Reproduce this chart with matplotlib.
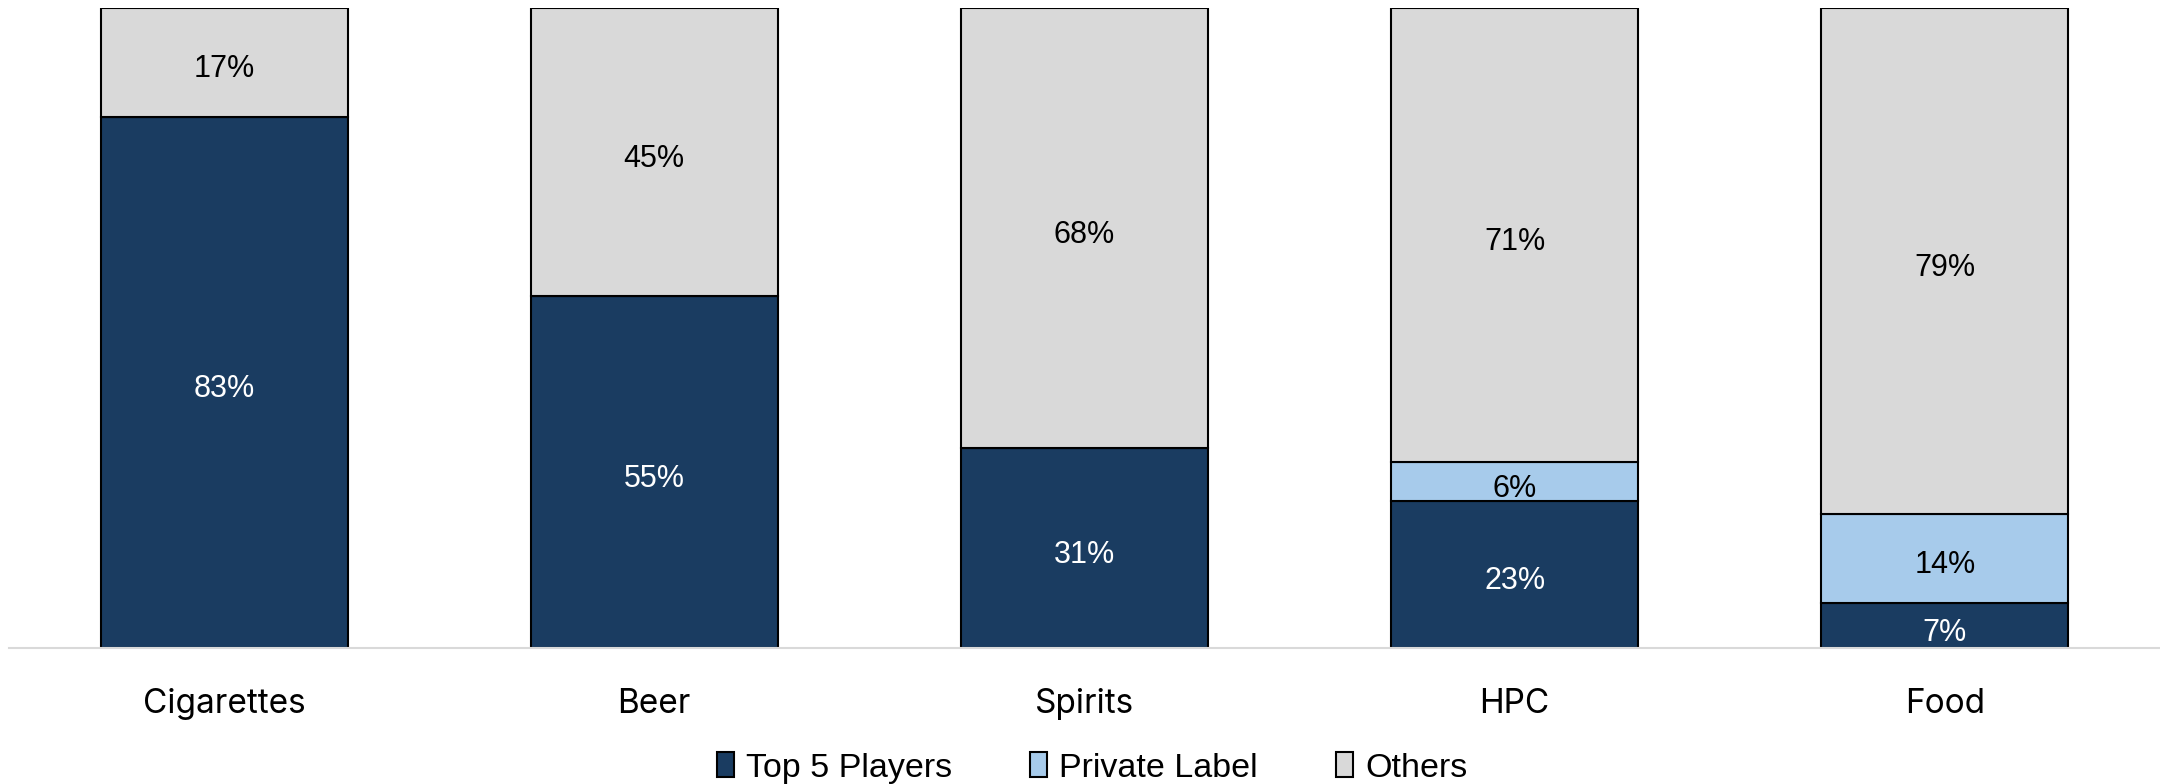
import matplotlib.pyplot as plt
import numpy as np

categories = ['Cigarettes', 'Beer', 'Spirits', 'HPC', 'Food']
top5 = [83, 55, 31, 23, 7]
private_label = [0, 0, 0, 6, 14]
others = [17, 45, 68, 71, 79]

series = [
    ('Top 5 Players', top5, '#1A3C61', 'white'),
    ('Private Label', private_label, '#A7CBEB', 'black'),
    ('Others', others, '#D9D9D9', 'black'),
]

fig = plt.figure(figsize=(21.6, 7.84), dpi=100)
ax = fig.add_axes([9 / 2160, 1 - 648 / 784, 1 - 9 / 2160, 640 / 784])

x = np.arange(len(categories))
totals = np.array(top5) + np.array(private_label) + np.array(others)
bottom = np.zeros(len(categories))
for name, vals, color, txt_color in series:
    vals = np.array(vals, dtype=float)
    share = vals / totals
    ax.bar(x, share, 0.574, bottom=bottom, color=color, edgecolor='black',
           linewidth=1.5, label=name, zorder=2)
    for xi, v, s, b in zip(x, vals, share, bottom):
        if v > 0:
            ax.annotate(f'{int(v)}%', (xi, b + s / 2), xytext=(0, -5),
                        textcoords='offset points', ha='center', va='center',
                        fontsize=22, color=txt_color, family='Liberation Sans', zorder=3)
    bottom += share

ax.set_xlim(-0.5, len(categories) - 0.5)
ax.set_ylim(0, 1)
ax.set_yticks([])
ax.set_xticks(x)
ax.set_xticklabels(categories, fontsize=24, family='Inter')
ax.tick_params(axis='x', length=0, pad=29)
for side in ['top', 'right', 'left']:
    ax.spines[side].set_visible(False)
ax.spines['bottom'].set_color('#D9D9D9')
ax.spines['bottom'].set_linewidth(1.5)

fig.legend(loc='center', bbox_to_anchor=(1092 / 2160, 1 - 768 / 784), ncol=3,
           frameon=False, prop={'family': 'Liberation Sans', 'size': 24.5},
           handlelength=0.5, handleheight=0.72, handletextpad=0.35, columnspacing=2.3)

fig.savefig('out.png', dpi=100)
